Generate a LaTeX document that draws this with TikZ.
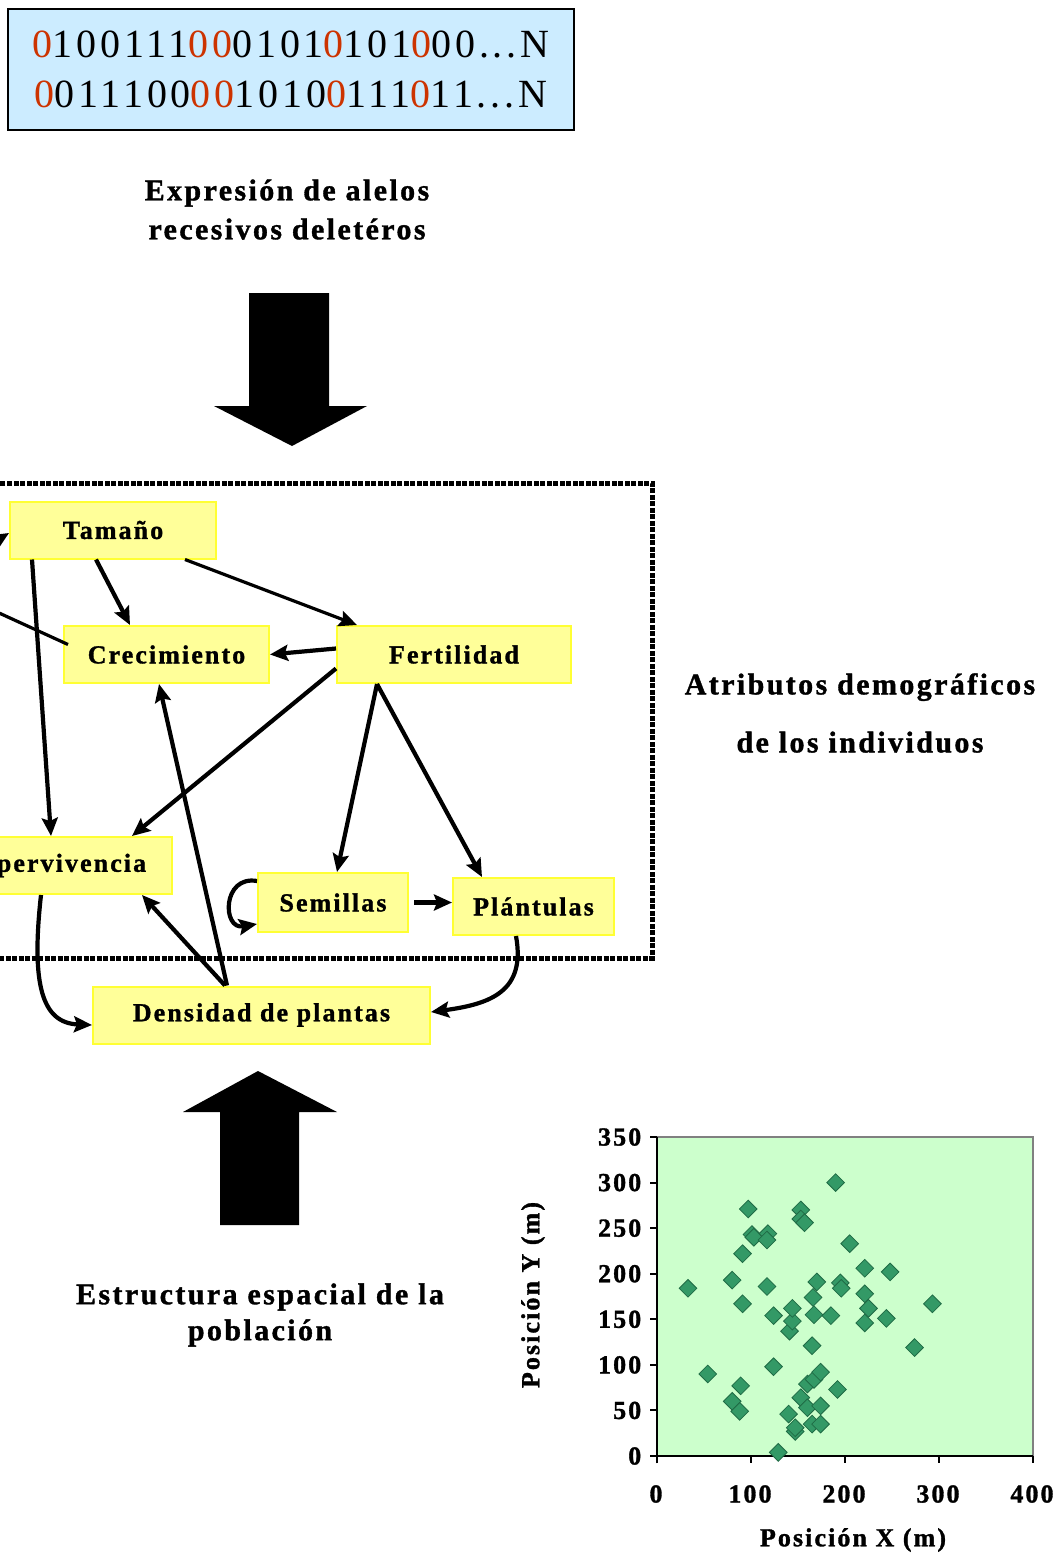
\documentclass[tikz,border=0pt]{standalone}
\usepackage{fontspec}
\setmainfont{Liberation Serif}
\newfontfamily\lsp[LetterSpace=8, BoldFeatures={FakeBold=1.2}]{Liberation Serif}
\newfontfamily\binf[LetterSpace=9.5]{Liberation Serif}
\usetikzlibrary{arrows.meta,shapes.geometric,calc}
\definecolor{boxblue}{HTML}{CCECFF}
\definecolor{nodeyel}{HTML}{FFFF99}
\definecolor{nodeedge}{HTML}{FFFF33}
\definecolor{redbit}{HTML}{CC3300}
\definecolor{plotbg}{HTML}{CCFFCC}
\definecolor{markgreen}{HTML}{339966}
\definecolor{markedge}{HTML}{1F6B45}
\newcommand{\rb}[1]{\textcolor{redbit}{#1}}
\begin{document}
\begin{tikzpicture}[x=1pt,y=-1pt,
  yb/.style={draw=nodeedge, fill=nodeyel, line width=2pt, minimum height=57pt, inner sep=0pt,
    font=\lsp\bfseries\fontsize{26}{30}\selectfont},
  con/.style={line width=4.2pt, -{Stealth[length=18pt,width=16pt,inset=3pt]}},
  lbl/.style={align=center},
  dia/.style={diamond, fill=markgreen, draw=markedge, line width=0.8pt, minimum width=18pt, minimum height=18pt, inner sep=0pt},
  axlbl/.style={font=\lsp\bfseries\fontsize{26}{30}\selectfont}]
\useasboundingbox (0,0) rectangle (1053,1555);
\clip (0,0) rectangle (1053,1555);

% top binary box
\node[draw=black, line width=2.5pt, fill=boxblue, minimum width=566pt, minimum height=121pt, align=center,
  font=\binf\fontsize{40}{50}\selectfont] (bits) at (291,69.5)
  {\rb{0}100111\rb{00}0101\rb{0}101\rb{0}00...N\\
   \rb{0}011100\rb{00}1010\rb{0}111\rb{0}11...N};

\node[lbl, font=\lsp\bfseries\fontsize{30}{39}\selectfont] (expr) at (287,209.5)
  {Expresión de alelos\\recesivos deletéros};

% big down arrow
\fill (249,293) -- (329,293) -- (329,406) -- (367,406) -- (292,446) -- (214,406) -- (249,406) -- cycle;

% dotted frame
\draw[line width=5pt, dash pattern=on 5pt off 1.5pt] (-20,483) rectangle (652,958);

% nodes
\node[yb, minimum width=206pt] (tam) at (113,530) {Tamaño};
\node[yb, minimum width=205pt] (cre) at (166.5,654.5) {Crecimiento};
\node[yb, minimum width=234pt] (fer) at (454,654.5) {Fertilidad};
\node[yb, minimum width=234pt] (sup) at (55,865.5) {Supervivencia};
\node[yb, minimum width=150pt, minimum height=59pt] (sem) at (333,902.5) {Semillas};
\node[yb, minimum width=161pt] (pla) at (533.5,906.5) {Plántulas};
\node[yb, minimum width=337pt] (den) at (261.5,1015) {Densidad de plantas};

% connectors
\coordinate (offA) at (-60,575);
\coordinate (offB) at (-60,586);
\draw[con] (offA) -- ($(tam.west)+(0,3)$);
\draw[con, line width=3.2pt] ($(cre.west)+(5,-10)$) -- (offB);
\draw[con] ($(tam.south west)+(87,0)$) -- ($(cre.north west)+(67,0)$);
\draw[con, line width=3.2pt] ($(tam.south west)+(176,0)$) -- ($(fer.north west)+(21,0)$);
\draw[con] ($(fer.west)+(0,-6)$) -- (cre.east);
\draw[con] ($(tam.south west)+(23,0)$) -- ($(sup.north west)+(114,0)$);
\draw[con] ($(fer.west)+(0,14)$) -- ($(sup.north west)+(195,0)$);
\draw[con] ($(den.north west)+(135,0)$) -- ($(cre.south west)+(96,0)$);
\draw[con] ($(den.north west)+(133,0)$) -- ($(sup.south west)+(205,0)$);
\draw[con] ($(fer.south west)+(41,0)$) -- ($(sem.north west)+(80,0)$);
\draw[con] ($(fer.south west)+(41,0)$) -- ($(pla.north west)+(30,0)$);
\draw[con] ($(sem.east)+(5,0)$) -- (pla.west |- sem.east);
\draw[con] ($(sem.north west)+(0,9)$) .. controls +(-35,-6) and +(-35,6) .. ($(sem.south west)+(0,-9)$);
\draw[con] ($(sup.south west)+(104,0)$) .. controls +(-10,90) and +(-50,-2) .. ($(den.west)+(0,10)$);
\draw[con] ($(pla.south west)+(64,0)$) .. controls +(10,55) and +(60,-8) .. ($(den.east)+(0,-3)$);

\node[lbl, font=\lsp\bfseries\fontsize{30}{58}\selectfont] (attr) at (860,713)
  {Atributos demográficos\\de los individuos};

% big up arrow
\fill (220,1225) -- (299,1225) -- (299,1112) -- (337,1112) -- (258,1071) -- (183,1112) -- (220,1112) -- cycle;

\node[lbl, font=\lsp\bfseries\fontsize{30}{36}\selectfont] (estr) at (260,1315)
  {Estructura espacial de la\\población};

% scatter plot
\begin{scope}[shift={(657,1456)}, x=0.94pt, y=0.9114pt]
  \fill[plotbg] (0,0) rectangle (400,350);
  \draw[gray, line width=2pt] (0,350) -- (400,350) -- (400,0);
  \draw[black, line width=2.5pt] (0,-8) -- (0,350);
  \draw[black, line width=2.5pt] (-6,0) -- (400,0);
  \foreach \yv in {0,50,...,350} {
    \draw[black, line width=2pt] (-7,\yv) -- (0,\yv);
    \node[axlbl, anchor=east] (yt\yv) at (-13,\yv) {\yv};
  }
  \foreach \xv in {0,100,...,400} {
    \draw[black, line width=2pt] (\xv,0) -- (\xv,-8);
    \node[axlbl] (xt\xv) at (\xv,0) [xshift=-1pt, yshift=-38pt] {\xv};
  }
  \foreach \px/\py [count=\i] in {33/184, 54/90, 80/193, 80/60, 88/49, 89/77, 91/167, 91/222,
     97/271, 101/243, 103/240, 117/186, 118/244, 117/237, 124/154, 124/98, 129/4, 140/46,
     141/137, 144/148, 144/162, 147/27, 147/31, 153/64, 153/270, 153/260, 157/256, 160/53,
     160/79, 165/121, 166/174, 165/35, 167/155, 167/84, 170/191, 174/92, 174/55, 174/35,
     185/154, 190/300, 192/73, 195/190, 196/184, 205/233, 221/206, 221/178, 221/146,
     225/162, 244/151, 248/202, 274/119, 293/167} {
    \node[dia] (m\i) at (\px,\py) {};
  }
\end{scope}
\node[axlbl, rotate=90] (ylab) at (533,1295) {Posición Y (m)};
\node[axlbl] (xlab) at (853,1540) {Posición X (m)};
\end{tikzpicture}
\end{document}
